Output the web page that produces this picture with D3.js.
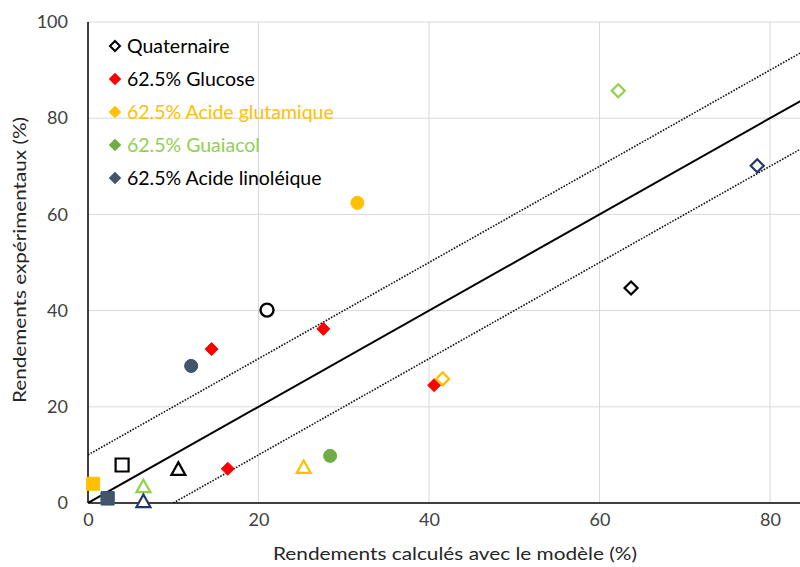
<!DOCTYPE html>
<html><head><meta charset="utf-8">
<script src="https://cdn.jsdelivr.net/npm/d3@7"></script>
<style>body{margin:0;background:#fff}svg{display:block}text{font-family:Lato,"Open Sans",sans-serif}</style>
</head><body>
<svg id="c" width="800" height="567"></svg>
<script>
const seriesNames = ["Quaternaire","62.5% Glucose","62.5% Acide glutamique","62.5% Guaiacol","62.5% Acide linoléique"];
const shapes = ["diamond","circle","square","triangle"];
const quatX = [63.7, 21.0, 4.0, 10.6];
const quatY = [44.7, 40.1, 7.9, 7.1];
const glucX = [40.6, 14.5, 27.6, 16.4];
const glucY = [24.5, 32.0, 36.2, 7.1];
const glutX = [41.6, 31.6, 0.6, 25.3];
const glutY = [25.8, 62.4, 4.0, 7.5];
const guaiX = [62.2, 28.4, 2.3, 6.5];
const guaiY = [85.7, 9.8, 0.9, 3.5];
const linoX = [78.5, 12.1, 2.3, 6.5];
const linoY = [70.1, 28.5, 1.0, 0.4];
const xTicks = [0,20,40,60,80];
const yTicks = [0,20,40,60,80,100];

const svg = d3.select("#c");
const L=88, T=22, B=503;
const x = d3.scaleLinear().domain([0,100]).range([L, L+852.5]);
const y = d3.scaleLinear().domain([0,100]).range([B, T]);

// gridlines
svg.append("g").selectAll("line").data([20,40,60,80,100]).join("line")
  .attr("x1",d=>x(d)).attr("x2",d=>x(d)).attr("y1",T).attr("y2",B)
  .attr("stroke","#d9d9d9").attr("stroke-width",1);
svg.append("g").selectAll("line").data([20,40,60,80,100]).join("line")
  .attr("x1",L).attr("x2",800).attr("y1",d=>y(d)).attr("y2",d=>y(d))
  .attr("stroke","#d9d9d9").attr("stroke-width",1);

// reference lines
svg.append("clipPath").attr("id","pc").append("rect").attr("x",L).attr("y",T).attr("width",800-L).attr("height",B-T);
const lines = svg.append("g").attr("clip-path","url(#pc)");
lines.append("line").attr("x1",x(0)).attr("y1",y(0)).attr("x2",x(100)).attr("y2",y(100)).attr("stroke","#000").attr("stroke-width",2);
lines.append("line").attr("x1",x(0)).attr("y1",y(10)).attr("x2",x(90)).attr("y2",y(100)).attr("stroke","#111").attr("stroke-width",1.6).attr("stroke-dasharray","1.6,1.4");
lines.append("line").attr("x1",x(10)).attr("y1",y(0)).attr("x2",x(100)).attr("y2",y(90)).attr("stroke","#111").attr("stroke-width",1.6).attr("stroke-dasharray","1.6,1.4");

// axes
const xAxis = d3.axisBottom(x).tickValues(xTicks).tickSize(0).tickPadding(10);
const gx = svg.append("g").attr("transform",`translate(0,${B})`).call(xAxis);
gx.select(".domain").remove();
gx.selectAll("text").attr("font-size",18).attr("fill","#404040").attr("font-family","Lato");
const yAxis = d3.axisLeft(y).tickValues(yTicks).tickSize(0).tickPadding(20);
const gy = svg.append("g").attr("transform",`translate(${L},0)`).call(yAxis);
gy.select(".domain").remove();
gy.selectAll("text").attr("font-size",18).attr("fill","#404040").attr("font-family","Lato");
svg.append("line").attr("x1",L).attr("x2",L).attr("y1",T).attr("y2",B).attr("stroke","#000").attr("stroke-width",1.5);
svg.append("line").attr("x1",L).attr("x2",800).attr("y1",B).attr("y2",B).attr("stroke","#000").attr("stroke-width",1.5);

svg.append("text").attr("x",455).attr("y",560).attr("text-anchor","middle").attr("font-size",17).attr("fill","#262626")
  .attr("textLength",364).attr("lengthAdjust","spacingAndGlyphs").text("Rendements calculés avec le modèle (%)");
svg.append("text").attr("transform","translate(26,260) rotate(-90)").attr("text-anchor","middle").attr("font-size",17).attr("fill","#262626")
  .attr("textLength",286).attr("lengthAdjust","spacingAndGlyphs").text("Rendements expérimentaux (%)");

// markers
const series = [
  {xs:quatX, ys:quatY, stroke:["#000","#000","#000","#000"], fill:["#fff","#fff","#fff","#fff"], shapes:shapes},
  {xs:glucX, ys:glucY, stroke:["#ff0000","#ff0000","#ff0000","#ff0000"], fill:["#ff0000","#ff0000","#ff0000","#ff0000"], shapes:["diamond","diamond","diamond","diamond"]},
  {xs:glutX, ys:glutY, stroke:["#ffc000","#ffc000","#ffc000","#ffc000"], fill:["#fff","#ffc000","#ffc000","#fff"], shapes:shapes},
  {xs:guaiX, ys:guaiY, stroke:["#92d050","#70ad47","#70ad47","#92d050"], fill:["#fff","#70ad47","#70ad47","#fff"], shapes:shapes},
  {xs:linoX, ys:linoY, stroke:["#1f3864","#2f4b7c","#2f4b7c","#1f3864"], fill:["#fff","#44546a","#44546a","#fff"], shapes:shapes}
];
function path(shape){
  if(shape==="diamond") return "M0,-6.5L6.5,0L0,6.5L-6.5,0Z";
  if(shape==="square") return "M-6.5,-6.5H6.5V6.5H-6.5Z";
  if(shape==="triangle") return "M0,-6.5L7,6L-7,6Z";
  return null;
}
const gm = svg.append("g");
series.forEach(s=>{
  s.xs.forEach((xv,i)=>{
    const sh = s.shapes[i];
    const filledDiamond = sh==="diamond" && s.fill[i]!=="#fff";
    const sw = (s.fill[i]==="#fff") ? 2.2 : 1;
    if(sh==="circle"){
      gm.append("circle").attr("cx",x(xv)).attr("cy",y(s.ys[i])).attr("r",6.5)
        .attr("fill",s.fill[i]).attr("stroke",s.stroke[i]).attr("stroke-width",s.fill[i]==="#fff"?2.4:1);
    } else {
      gm.append("path").attr("d",filledDiamond?"M0,-6.5L6.5,0L0,6.5L-6.5,0Z":path(sh))
        .attr("transform",`translate(${x(xv)},${y(s.ys[i])})`)
        .attr("fill",s.fill[i]).attr("stroke",s.stroke[i]).attr("stroke-width",sw).attr("stroke-linejoin","miter");
    }
  });
});

// legend
const legMarkFill = ["#fff","#ff0000","#ffc000","#70ad47","#44546a"];
const legMarkStroke = ["#000","#ff0000","#ffc000","#70ad47","#44546a"];
const legText = ["#000","#000","#ffc000","#92d050","#000"];
const lg = svg.append("g");
seriesNames.forEach((n,i)=>{
  const yy = 46 + i*33;
  lg.append("path").attr("d", i===0?"M0,-5L5,0L0,5L-5,0Z":"M0,-6L6,0L0,6L-6,0Z")
    .attr("transform",`translate(115,${yy})`).attr("fill",legMarkFill[i]).attr("stroke",legMarkStroke[i]).attr("stroke-width",i===0?2:0.5);
  lg.append("text").attr("x",127).attr("y",yy+6.5).attr("font-size",19.5).attr("fill",legText[i]).text(n);
});
</script>
</body></html>
